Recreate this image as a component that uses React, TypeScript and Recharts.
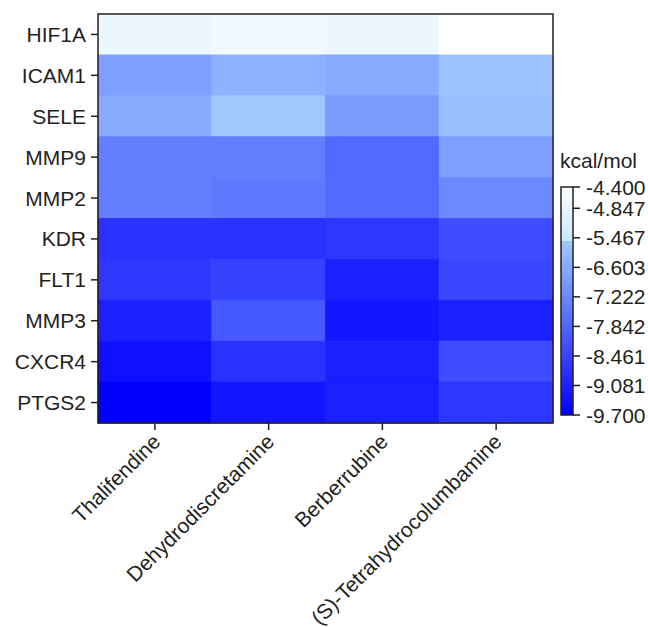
import React from "react";
import { BarChart, Bar, Cell, XAxis, YAxis } from "recharts";

// binding energies (kcal/mol), one array per compound, rows follow `genes`
const genes = ["HIF1A", "ICAM1", "SELE", "MMP9", "MMP2", "KDR", "FLT1", "MMP3", "CXCR4", "PTGS2"];
const compounds = ["Thalifendine", "Dehydrodiscretamine", "Berberrubine", "(S)-Tetrahydrocolumbamine"];
const thalifendine = [-4.8, -6.8, -6.6, -7.4, -7.4, -8.8, -8.7, -9.1, -9.4, -9.7];
const dehydrodiscretamine = [-4.7, -6.4, -5.6, -7.4, -7.5, -8.8, -8.5, -8.1, -8.8, -9.3];
const berberrubine = [-4.8, -6.6, -6.9, -7.8, -7.8, -8.7, -9.1, -9.3, -9.1, -9.1];
const tetrahydrocolumbamine = [-4.4, -5.7, -5.9, -6.8, -7.2, -8.3, -8.4, -9.1, -8.3, -8.7];
const legendTicks = [-9.7, -9.081, -8.461, -7.842, -7.222, -6.603, -5.467, -4.847, -4.4];

const columns = [thalifendine, dehydrodiscretamine, berberrubine, tetrahydrocolumbamine];
const INK = "#231f20";
const FONT = "'Liberation Sans', Arial, sans-serif";
const FS = 21;

// chart box (page is 648x627, body margin removed, chart offset by 8)
const PAGE_W = 648;
const PAGE_H = 627;
const OFF = 8;
const W = 640;
const H = 619;
const M = { top: 6, right: 95, bottom: 18, left: 10 };
const Y_W = 80;
const X_H = 186;
const plotL = M.left + Y_W;
const plotT = M.top;
const plotW = W - M.right - plotL;
const plotH = H - M.bottom - X_H - plotT;

// colour bar is evenly stepped between ticks, last step is partial
const stepSize = legendTicks[7] - legendTicks[6];
const legendSteps = legendTicks.map((v, i) =>
  i < 8 ? i : 7 + (v - legendTicks[7]) / stepSize
);
const totalSteps = legendSteps[legendSteps.length - 1];
const BREAK = -5.6;

const toStep = (v: number) => {
  for (let i = 1; i < legendTicks.length; i++) {
    if (v <= legendTicks[i]) {
      const a = legendTicks[i - 1];
      const b = legendTicks[i];
      return legendSteps[i - 1] + ((v - a) / (b - a)) * (legendSteps[i] - legendSteps[i - 1]);
    }
  }
  return totalSteps;
};
const breakStep = toStep(BREAK);

const colorAtStep = (s: number) => {
  if (s <= breakStep) {
    const t = Math.max(0, s / breakStep);
    return `rgb(${Math.round(160 * t)},${Math.round(200 * t)},255)`;
  }
  const t = (s - breakStep) / (totalSteps - breakStep);
  return `rgb(${Math.round(200 + 55 * t)},${Math.round(232 + 23 * t)},255)`;
};
const colorOf = (v: number) => colorAtStep(toStep(v));

const rows = genes.map((g) => ({ gene: g, c0: 1, c1: 1, c2: 1, c3: 1 }));

const CompoundTick = (props: any) => {
  const { x, y, payload } = props;
  const ax = x + 7;
  const ay = y + 11;
  return (
    <text
      x={ax}
      y={ay}
      transform={`rotate(-45, ${ax}, ${ay})`}
      textAnchor="end"
      fill={INK}
      fontSize={FS}
      fontFamily={FONT}
    >
      {compounds[Math.floor(payload.value)]}
    </text>
  );
};

// frame around the heatmap + colour bar legend
const Overlay = () => {
  const x0 = plotL + plotW + 8;
  const top = 179;
  const bottom = 407;
  const h = bottom - top;
  const stops = [
    { off: 0, c: colorAtStep(0) },
    { off: breakStep / totalSteps, c: colorAtStep(breakStep) },
    { off: breakStep / totalSteps, c: colorAtStep(breakStep + 0.0001) },
    { off: 1, c: colorAtStep(totalSteps) },
  ];
  return (
    <svg
      width={W}
      height={H}
      style={{ position: "absolute", left: OFF, top: OFF, pointerEvents: "none", overflow: "visible" }}
    >
      <defs>
        <linearGradient id="kcal" x1="0" y1="1" x2="0" y2="0">
          {stops.map((s, i) => (
            <stop key={i} offset={s.off} stopColor={s.c} />
          ))}
        </linearGradient>
      </defs>
      <rect x={plotL} y={plotT} width={plotW} height={plotH} fill="none" stroke={INK} strokeWidth={1.5} />
      <text x={x0 - 1} y={160} fontSize={FS} fontFamily={FONT} fill={INK}>
        kcal/mol
      </text>
      <rect x={x0} y={top} width={12} height={h} fill="url(#kcal)" stroke={INK} strokeWidth={1.5} />
      {legendTicks.map((v, i) => {
        const y = bottom - (legendSteps[i] / totalSteps) * h;
        return (
          <g key={v}>
            <line x1={x0 + 12} x2={x0 + 19} y1={y} y2={y} stroke={INK} strokeWidth={1.5} />
            <text x={x0 + 25} y={y} dy="0.36em" fontSize={FS} fontFamily={FONT} fill={INK}>
              {v.toFixed(3)}
            </text>
          </g>
        );
      })}
    </svg>
  );
};

export default function App() {
  const tl = { stroke: INK, strokeWidth: 1.5 };
  return (
    <div style={{ position: "relative", width: PAGE_W, height: PAGE_H, overflow: "hidden" }}>
      <style>{`body { margin: 0; } .recharts-surface { overflow: visible; }`}</style>
      <div style={{ position: "absolute", left: OFF, top: OFF, width: W, height: H }}>
        <BarChart
          width={W}
          height={H}
          data={rows}
          layout="vertical"
          barCategoryGap={0}
          margin={M}
        >
          <XAxis
            type="number"
            domain={[0, 4]}
            ticks={[0.5, 1.5, 2.5, 3.5]}
            height={X_H}
            tick={<CompoundTick />}
            tickSize={7}
            axisLine={false}
            tickLine={tl}
            interval={0}
          />
          <YAxis
            type="category"
            dataKey="gene"
            width={Y_W}
            tickSize={7}
            tickMargin={5}
            axisLine={false}
            tickLine={tl}
            tick={{ fill: INK, fontSize: FS, fontFamily: FONT }}
            interval={0}
          />
          {columns.map((col, ci) => (
            <Bar key={ci} dataKey={`c${ci}`} stackId="heat" isAnimationActive={false}>
              {col.map((v, ri) => (
                <Cell key={ri} fill={colorOf(v)} stroke={colorOf(v)} strokeWidth={0.8} />
              ))}
            </Bar>
          ))}
        </BarChart>
      </div>
      <Overlay />
    </div>
  );
}
